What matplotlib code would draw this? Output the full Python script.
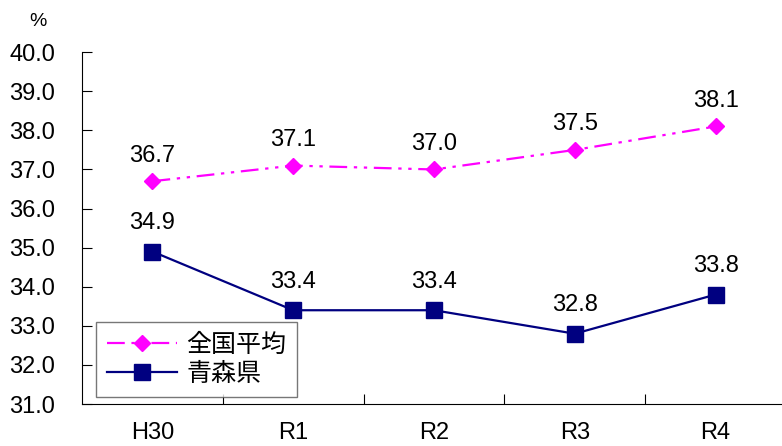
import matplotlib
matplotlib.use("Agg")
import matplotlib.pyplot as plt

plt.rcParams['font.family'] = ['Liberation Sans Narrow', 'Liberation Sans', 'Noto Sans CJK JP', 'DejaVu Sans']

years = ['H30', 'R1', 'R2', 'R3', 'R4']
national = [36.7, 37.1, 37.0, 37.5, 38.1]
aomori = [34.9, 33.4, 33.4, 32.8, 33.8]

fig = plt.figure(figsize=(7.82, 4.46), dpi=100)
ax = fig.add_axes([0.105, 0.094, 0.900, 0.789])

x = list(range(len(years)))
ax.plot(x, national, color='#ff00ff', linestyle=(0, (8, 3, 1.5, 3, 1.5, 3)), linewidth=1.6,
        marker='D', markersize=8.5, label='全国平均')
ax.plot(x, aomori, color='#000080', linestyle='-', linewidth=1.6,
        marker='s', markersize=12, label='青森県')

for xi, v in zip(x, national):
    ax.annotate(f'{v:.1f}', (xi, v), xytext=(0, 14), textcoords='offset points',
                ha='center', va='baseline', fontsize=17)
for xi, v in zip(x, aomori):
    ax.annotate(f'{v:.1f}', (xi, v), xytext=(0, 16), textcoords='offset points',
                ha='center', va='baseline', fontsize=17)

ax.set_xlim(-0.5, len(years) - 0.5)
ax.set_ylim(31.0, 40.0)
ax.set_yticks([31 + i for i in range(10)])
ax.set_yticklabels([f'{31 + i:.1f}' for i in range(10)], fontsize=17)
ax.set_xticks([i + 0.5 for i in range(len(years) - 1)])
ax.set_xticklabels([])
ax.set_xticks(x, minor=True)
ax.set_xticklabels(years, minor=True, fontsize=17)
ax.tick_params(axis='y', direction='in', length=7, pad=19.5)
ax.tick_params(axis='x', which='major', direction='in', length=7)
ax.tick_params(axis='x', which='minor', length=0, pad=13)
ax.spines['top'].set_visible(False)
ax.spines['right'].set_visible(False)

ax.text(-0.063, 1.075, '%', transform=ax.transAxes, fontsize=14, ha='center')

leg = ax.legend(loc='lower left', bbox_to_anchor=(0.02, 0.02), fontsize=18,
                frameon=True, fancybox=False, edgecolor='#555555', handlelength=2.8,
                borderpad=0.45, labelspacing=0.2, handletextpad=0.35, borderaxespad=0)
leg.get_frame().set_linewidth(1.0)

fig.savefig('out.png', dpi=100)
